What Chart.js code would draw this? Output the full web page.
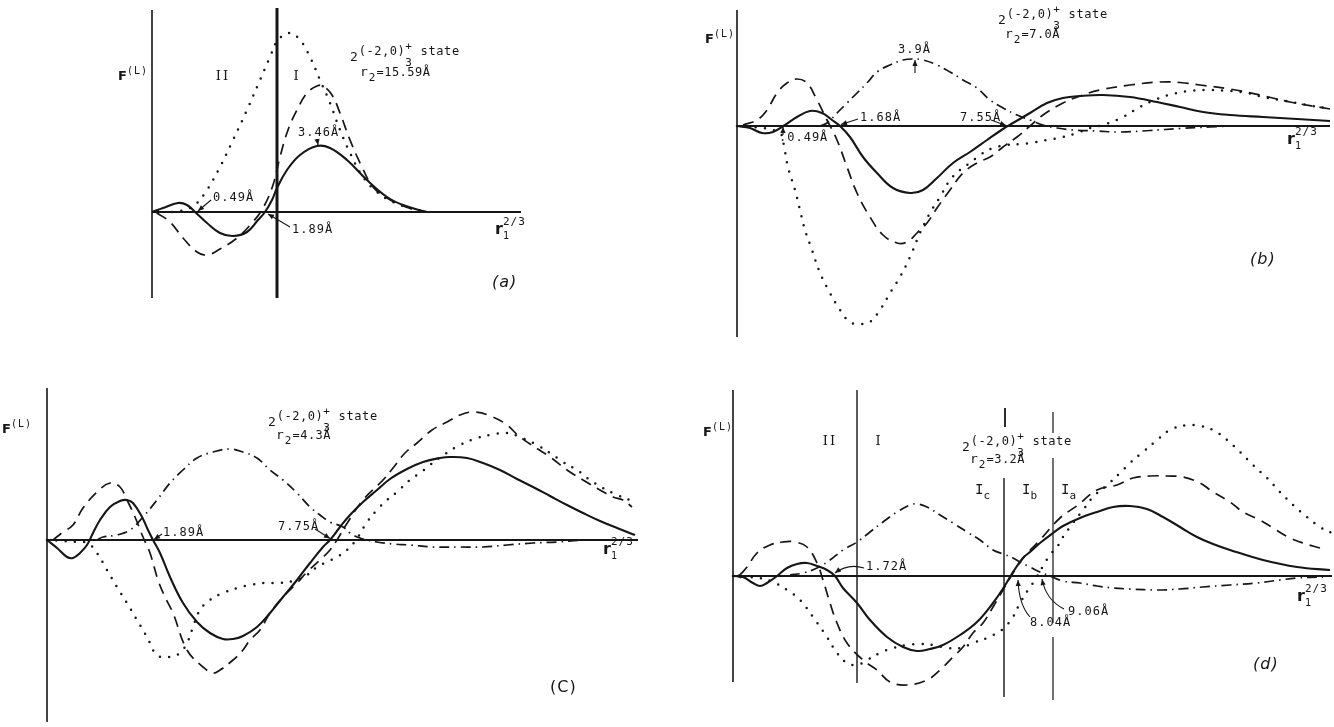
<!DOCTYPE html>
<html><head><meta charset="utf-8">
<script src="https://cdn.jsdelivr.net/npm/chart.js@4/dist/chart.umd.min.js"></script>
<style>
html,body{margin:0;padding:0;background:#fff;width:1334px;height:727px;overflow:hidden}
canvas{position:absolute}
</style></head><body>
<canvas id="pa" width="460" height="310" style="left:100px;top:0px"></canvas>
<canvas id="pb" width="644" height="345" style="left:690px;top:0px"></canvas>
<canvas id="pc" width="670" height="347" style="left:0px;top:380px"></canvas>
<canvas id="pd" width="644" height="347" style="left:690px;top:380px"></canvas>
<script>
// ---------- data (x = r1^(2/3) arbitrary units, y = F^(L) arbitrary units) ----------
const A_SOLID = [[0,0],[1.1,0.4],[2.6,0.9],[3.5,0.7],[4.3,0],[5.5,-1.1],[6.8,-2.1],[8.1,-2.4],[9.5,-2.0],[10.6,-0.8],[11.3,0],[12.0,1.2],[12.5,2.4],[13.5,4.2],[14.8,5.7],[16.5,6.6],[17.8,6.4],[19.5,5.2],[21.5,3.2],[23.5,1.5],[25.1,0.7],[27.1,0.1],[27.6,0]];
const A_DASHED = [[0.5,-0.1],[1.8,-1.0],[3.1,-2.6],[4.5,-4.0],[5.5,-4.3],[6.8,-3.7],[8.5,-2.6],[10.0,-1.1],[11.1,0.4],[12.1,2.7],[12.8,5.5],[13.6,8.2],[14.5,10.2],[15.5,11.9],[16.5,12.6],[17.1,12.6],[18.0,11.7],[18.8,9.9],[19.8,7.2],[21.0,4.5],[22.1,2.5],[23.5,1.4],[25.1,0.6],[26.8,0.1]];
const A_DOTTED = [[2.0,0],[2.8,0.1],[3.8,0.4],[4.5,0.9],[5.5,2.2],[6.8,4.5],[8.1,7.2],[9.5,10.2],[10.8,13.2],[11.8,15.5],[12.6,17.2],[13.8,17.9],[14.8,17.2],[15.8,15.5],[16.8,13.2],[17.8,10.9],[18.8,8.2],[19.8,5.9],[21.1,3.5],[22.5,2.0],[24.1,1.0],[25.8,0.4],[27.1,0.1]];

const B_SOLID = [[0,0],[1.3,-0.2],[2.5,-0.7],[3.6,-0.6],[4.8,0.1],[6.0,0.9],[7.3,1.5],[8.5,1.3],[9.5,0.6],[10.3,0],[11.3,-1.1],[12.6,-3.1],[14.0,-4.7],[15.6,-6.2],[17.3,-6.7],[18.6,-6.4],[20.0,-5.2],[21.6,-3.7],[23.3,-2.6],[25.0,-1.4],[26.6,-0.3],[27.6,0.3],[29.3,1.3],[31.0,2.3],[32.6,2.8],[34.3,3.0],[36.6,3.1],[39.3,2.9],[42.0,2.4],[44.3,1.9],[46.6,1.4],[49.3,1.1],[52.6,0.9],[56.0,0.7],[59.3,0.5]];
const B_DASHED = [[0.6,0.1],[2.0,0.6],[3.0,1.6],[4.0,3.3],[5.0,4.3],[6.0,4.7],[7.0,4.3],[8.0,2.6],[9.0,0.6],[10.0,-1.4],[11.0,-4.1],[12.0,-6.7],[13.3,-9.1],[14.6,-10.9],[16.0,-11.7],[17.0,-11.6],[18.0,-10.7],[19.0,-9.7],[20.0,-8.2],[21.3,-6.4],[22.6,-4.7],[24.0,-3.7],[25.3,-3.1],[26.6,-2.1],[28.0,-1.1],[29.3,0],[30.6,1.1],[32.6,2.3],[34.3,3.0],[36.3,3.6],[39.3,4.1],[42.3,4.4],[44.3,4.35],[46.3,4.1],[49.3,3.7],[52.3,3.1],[55.3,2.4],[59.3,1.7]];
const B_DOTTED = [[0,0],[1.3,-0.1],[2.6,-0.2],[3.6,-0.4],[4.4,-0.8],[4.7,-2.0],[5.1,-4.1],[5.8,-6.4],[6.3,-8.4],[6.8,-10.4],[7.5,-12.4],[8.3,-14.7],[9.3,-16.7],[10.3,-18.4],[11.3,-19.6],[12.3,-19.8],[13.3,-19.6],[14.3,-18.4],[15.3,-16.7],[16.3,-15.1],[17.3,-13.1],[18.3,-10.7],[19.3,-8.7],[20.3,-7.1],[21.3,-5.4],[22.3,-4.4],[23.3,-3.7],[24.3,-2.9],[25.6,-2.2],[27.0,-1.9],[28.3,-1.8],[29.3,-1.7],[31.0,-1.4],[32.6,-1.1],[34.0,-0.7],[35.3,-0.2],[36.6,0.1],[38.6,0.9],[40.3,1.9],[42.0,2.7],[43.6,3.2],[45.3,3.5],[47.3,3.6],[49.3,3.5],[51.0,3.3],[52.6,2.9],[54.3,2.6],[56.0,2.3],[57.6,2.0],[59.0,1.8]];
const B_DASHDOT = [[8.3,0],[9.0,0.3],[10.0,1.3],[11.0,2.3],[12.0,3.3],[13.0,4.3],[14.0,5.4],[15.3,6.1],[16.6,6.6],[17.6,6.7],[18.6,6.6],[20.0,6.1],[21.3,5.4],[22.6,4.6],[24.0,3.8],[25.3,2.6],[26.6,1.8],[28.0,1.1],[29.3,0.6],[30.6,0.1],[32.0,-0.2],[33.6,-0.4],[36.0,-0.5],[38.3,-0.6],[41.3,-0.45],[44.3,-0.25],[47.3,-0.1],[50.3,0],[59.3,0]];

const C_SOLID = [[0,0],[1.0,-0.8],[2.0,-1.7],[2.6,-1.8],[3.3,-1.3],[4.0,-0.5],[4.6,0.7],[5.3,2.0],[6.3,3.3],[7.3,3.9],[8.0,4.0],[8.6,3.7],[9.5,2.3],[10.1,1.0],[10.6,0],[11.3,-1.3],[12.3,-3.7],[13.6,-6.3],[15.0,-8.2],[16.3,-9.3],[17.6,-9.9],[18.6,-9.9],[19.6,-9.6],[21.0,-8.7],[22.3,-7.3],[23.6,-5.7],[25.0,-4.0],[26.3,-2.3],[27.6,-0.7],[28.3,0],[29.3,1.3],[30.3,2.5],[31.6,3.8],[33.0,5.0],[34.3,6.1],[36.0,7.1],[37.6,7.8],[39.3,8.2],[40.3,8.3],[42.0,8.2],[43.6,7.7],[45.3,7.0],[47.0,6.1],[48.6,5.3],[50.3,4.4],[52.0,3.5],[53.6,2.7],[55.3,1.9],[57.0,1.2],[58.8,0.5]];
const C_DASHED = [[0.6,0],[1.6,0.8],[2.6,1.5],[3.6,3.2],[5.0,4.8],[6.3,5.7],[7.3,5.3],[8.0,4.0],[8.8,2.3],[9.6,0.3],[10.3,-1.3],[11.1,-4.0],[11.8,-5.7],[12.6,-7.3],[14.0,-11.0],[15.6,-12.7],[16.6,-13.3],[17.3,-13.0],[18.6,-12.0],[19.6,-11.0],[20.3,-10.0],[21.3,-9.0],[22.3,-7.3],[23.6,-5.7],[25.0,-4.3],[26.0,-3.2],[27.3,-2.0],[28.3,-1.0],[29.0,0],[29.9,1.5],[31.6,4.0],[33.6,6.0],[34.6,7.2],[35.8,8.7],[37.0,9.7],[38.5,11.0],[40.0,11.8],[41.3,12.5],[42.8,12.8],[44.6,12.3],[46.0,11.5],[47.3,10.3],[50.3,8.3],[52.0,7.0],[53.6,6.0],[55.3,5.0],[56.6,4.3],[57.6,4.0],[58.5,3.3]];
const C_DOTTED = [[0,0],[1.6,-0.1],[3.3,-0.2],[4.1,-0.3],[5.0,-1.3],[6.0,-3.0],[7.0,-4.7],[8.0,-6.3],[9.0,-8.0],[10.0,-9.7],[11.0,-11.5],[12.3,-11.7],[13.3,-11.3],[14.0,-10.3],[14.5,-9.0],[15.3,-7.0],[16.3,-6.0],[17.6,-5.3],[19.0,-4.8],[20.3,-4.5],[21.6,-4.3],[23.3,-4.3],[25.0,-4.0],[26.0,-3.5],[27.0,-2.7],[28.0,-2.2],[29.0,-1.7],[30.0,-1.0],[30.9,0],[32.0,1.8],[33.0,3.0],[34.0,4.0],[35.0,4.8],[36.3,6.0],[37.3,6.7],[38.3,7.5],[39.8,8.6],[41.3,9.5],[43.0,10.2],[44.3,10.5],[46.0,10.7],[47.3,10.3],[49.0,9.5],[50.3,8.7],[51.6,7.8],[53.0,7.0],[54.3,6.0],[55.6,5.2],[57.0,4.5],[58.3,4.0]];
const C_DASHDOT = [[5.0,0],[5.6,0.3],[7.0,0.5],[8.3,1.0],[9.6,2.3],[11.0,4.0],[12.3,5.7],[13.6,7.0],[15.0,8.2],[16.6,8.8],[18.3,9.1],[19.6,8.8],[21.0,8.2],[22.3,7.0],[23.6,6.0],[25.0,4.7],[26.3,3.3],[27.3,2.5],[28.3,1.8],[29.6,1.3],[30.3,0.7],[31.3,0.2],[33.0,-0.2],[34.6,-0.4],[36.3,-0.5],[38.6,-0.7],[41.3,-0.7],[43.6,-0.7],[46.0,-0.5],[48.6,-0.3],[51.0,-0.2],[53.6,0],[55.6,0]];

const D_SOLID = [[0,0],[1.0,-0.1],[2.0,-0.7],[2.7,-1.0],[3.4,-0.7],[4.4,0],[5.4,0.8],[6.4,1.2],[7.4,1.3],[8.4,1.0],[9.4,0.6],[10.2,0],[11.0,-1.2],[12.4,-2.7],[13.7,-4.4],[15.4,-6.1],[17.0,-7.1],[18.4,-7.5],[19.7,-7.3],[21.0,-6.9],[22.7,-5.9],[24.4,-4.6],[26.0,-2.7],[27.1,-1.1],[28.0,0.4],[29.0,1.8],[29.7,2.4],[30.7,3.3],[32.0,4.3],[33.0,5.0],[34.7,5.8],[36.4,6.4],[38.0,6.9],[39.7,7.0],[41.4,6.7],[43.0,5.9],[44.7,4.9],[46.4,3.9],[48.0,3.2],[49.7,2.6],[53.0,1.6],[56.4,0.9],[59.7,0.6]];
const D_DASHED = [[0.7,0.1],[1.4,0.9],[2.4,2.3],[3.7,3.1],[5.0,3.4],[6.2,3.4],[7.4,2.9],[8.4,1.3],[9.0,-0.4],[9.7,-2.7],[10.4,-4.7],[11.4,-6.7],[13.0,-8.4],[14.4,-9.4],[15.7,-10.6],[17.4,-10.9],[19.4,-10.4],[20.7,-9.4],[22.0,-8.1],[23.0,-7.1],[24.0,-5.7],[25.0,-4.7],[26.0,-3.1],[27.0,-1.4],[27.7,-0.2],[28.4,0.9],[29.0,1.8],[30.7,3.6],[32.7,5.8],[34.5,7.1],[36.4,8.6],[38.4,9.1],[40.0,9.8],[41.7,10.0],[43.4,10.0],[45.0,9.9],[46.7,9.3],[48.0,8.4],[49.7,7.4],[51.0,6.4],[52.7,5.6],[54.0,4.8],[55.5,3.9],[57.0,3.3],[58.7,2.8]];
const D_DOTTED = [[0,0],[1.4,-0.1],[2.7,-0.2],[4.0,-0.6],[5.4,-1.4],[6.7,-2.4],[8.0,-4.1],[9.4,-6.1],[10.4,-7.7],[11.4,-8.7],[12.4,-8.9],[13.4,-8.4],[14.7,-7.7],[16.0,-7.2],[17.4,-6.9],[18.7,-6.8],[20.0,-6.9],[21.4,-7.2],[22.7,-7.2],[24.0,-6.7],[25.4,-6.2],[26.4,-5.7],[27.1,-5.2],[28.0,-4.1],[28.7,-2.7],[29.5,-1.4],[30.2,-0.4],[31.0,1.0],[31.7,2.1],[32.4,2.9],[33.0,3.9],[34.0,5.3],[35.0,6.6],[36.0,7.9],[37.4,9.1],[38.7,10.3],[39.7,11.3],[41.0,12.4],[42.4,13.6],[43.7,14.6],[45.4,15.1],[46.7,15.0],[48.0,14.6],[49.4,13.6],[50.7,12.4],[52.0,11.1],[53.4,9.8],[54.7,8.4],[56.0,7.1],[57.4,5.9],[58.7,4.9],[59.9,4.3]];
const D_DASHDOT = [[5.7,0.1],[7.0,0.3],[8.4,0.8],[9.7,1.6],[11.0,2.6],[12.4,3.4],[13.7,4.4],[15.0,5.4],[16.4,6.4],[17.7,7.1],[18.4,7.2],[19.4,6.9],[20.7,6.1],[22.0,5.3],[23.4,4.4],[24.7,3.6],[26.0,2.6],[27.0,2.2],[28.0,1.8],[28.7,1.4],[29.7,0.9],[30.7,0.4],[31.7,0],[33.0,-0.5],[34.7,-0.7],[36.4,-1.0],[38.0,-1.2],[39.7,-1.3],[42.4,-1.4],[44.7,-1.3],[47.0,-1.1],[49.7,-0.9],[52.4,-0.7],[54.7,-0.4],[56.4,-0.2],[59.0,-0.1]];

// marked radii (labels) and region boundaries
const A_MARKS = ['0.49Å','1.89Å','3.46Å'];
const B_MARKS = ['0.49Å','1.68Å','3.9Å','7.55Å'];
const C_MARKS = ['1.89Å','7.75Å'];
const D_MARKS = ['1.72Å','8.04Å','9.06Å'];
const R2_VALUES = ['15.59Å','7.0Å','4.3Å','3.2Å'];
const PANEL_TAGS = ['(a)','(b)','(C)','(d)'];
const A_BOUNDARY = [12.5];
const D_BOUNDARIES = [12.4, 27.1, 32.0];

// ---------- drawing helpers ----------
const MONO = '"DejaVu Sans Mono", monospace';
const SANS = '"DejaVu Sans", sans-serif';
const SERIF = '"DejaVu Serif", serif';
const INK = '#161616';

function drawRich(ctx, x, y, parts, align) {
  const fontOf = p => `${p.st||'normal'} ${p.w||'normal'} ${p.s||12}px ${p.f||MONO}`;
  let total = 0;
  for (const p of parts) { ctx.font = fontOf(p); ctx.letterSpacing = (p.ls==null?1:p.ls)+'px'; if (!p.na) total += ctx.measureText(p.t).width; }
  let cx = align === 'center' ? x - total/2 : x;
  for (const p of parts) {
    ctx.font = fontOf(p); ctx.letterSpacing = (p.ls==null?1:p.ls)+'px';
    ctx.fillText(p.t, cx, y + (p.dy||0));
    if (!p.na) cx += ctx.measureText(p.t).width;
  }
  ctx.letterSpacing = '0px';
}
function drawArrow(ctx, p0, p1, c) {
  ctx.lineWidth = 1.1;
  ctx.beginPath(); ctx.moveTo(p0[0], p0[1]);
  if (c) ctx.quadraticCurveTo(c[0], c[1], p1[0], p1[1]); else ctx.lineTo(p1[0], p1[1]);
  ctx.stroke();
  const from = c || p0;
  const a = Math.atan2(p1[1]-from[1], p1[0]-from[0]);
  const L = 6, W = 2.6;
  ctx.beginPath();
  ctx.moveTo(p1[0], p1[1]);
  ctx.lineTo(p1[0]-L*Math.cos(a)+W*Math.sin(a), p1[1]-L*Math.sin(a)-W*Math.cos(a));
  ctx.lineTo(p1[0]-L*Math.cos(a)-W*Math.sin(a), p1[1]-L*Math.sin(a)+W*Math.cos(a));
  ctx.closePath(); ctx.fill();
}
const annotPlugin = {
  id: 'annot',
  afterDatasetsDraw(chart, args, opts) {
    const ctx = chart.ctx, sx = chart.scales.x, sy = chart.scales.y;
    const P = a => [sx.getPixelForValue(a[0]), sy.getPixelForValue(a[1])];
    ctx.save();
    ctx.fillStyle = INK; ctx.strokeStyle = INK; ctx.textBaseline = 'middle';
    for (const it of (opts.items||[])) {
      if (it.kind === 'text') { const p = P(it.at); drawRich(ctx, p[0], p[1], it.parts, it.align); }
      else drawArrow(ctx, P(it.from), P(it.to), it.ctrl ? P(it.ctrl) : null);
    }
    ctx.restore();
  }
};

const STYLE = {
  solid:   {borderWidth: 2.1, borderDash: []},
  dashed:  {borderWidth: 1.7, borderDash: [11, 7]},
  dotted:  {borderWidth: 2.5, borderDash: [0, 9.3], borderCapStyle: 'round'},
  dashdot: {borderWidth: 1.7, borderDash: [10, 5, 1.5, 5]}
};
function curve(pts, kind) {
  return Object.assign({data: pts.map(([x,y]) => ({x, y})), borderColor: INK, pointRadius: 0,
    fill: false, tension: 0.4, borderCapStyle: 'butt', borderJoinStyle: 'round'}, STYLE[kind]);
}
function rule(x0, y0, x1, y1, w) {
  return {data: [{x:x0,y:y0},{x:x1,y:y1}], borderColor: INK, borderWidth: w, pointRadius: 0, tension: 0, fill: false};
}
const FL = [{t:'F', w:'bold', s:13, f:SANS, ls:0}, {t:'(L)', dy:-6, s:10}];
const R1 = [{t:'r', w:'bold', s:16, f:SANS, ls:0}, {t:'1', dy:6, s:10, na:1}, {t:'2/3', dy:-8, s:11}];
const stateLbl = () => [{t:'2', s:13}, {t:'(-2,0)', dy:-6, s:12, ls:0.5}, {t:'3', dy:5, s:11, na:1}, {t:'+', dy:-11, s:11}, {t:' state', dy:-6, s:12, ls:0.6}];
const r2Lbl = v => [{t:'r', s:13}, {t:'2', dy:5, s:11}, {t:'='+v, ls:0.5}];
const T = (at, parts, align) => ({kind:'text', at, parts, align});
const txt = (at, s, opt) => T(at, [Object.assign({t:s}, opt||{})]);
const tag = (at, s, italic) => T(at, [{t:s, s:16, f:SANS, st: italic ? 'italic' : 'normal', ls:1}]);
const roman = (at, s) => T(at, [{t:s, s:13, f:SERIF, ls:2}], 'center');
const region = (at, sub) => T(at, [{t:'I', s:14, ls:0}, {t:sub, dy:6, s:11}]);
const arrow = (from, to, ctrl) => ({kind:'arrow', from, to, ctrl});

function makePanel(id, range, datasets, items) {
  new Chart(document.getElementById(id), {
    type: 'line',
    data: {datasets},
    options: {
      responsive: false, animation: false, events: [],
      layout: {padding: 0},
      scales: {
        x: {type: 'linear', display: false, min: range[0], max: range[1]},
        y: {type: 'linear', display: false, min: range[2], max: range[3]}
      },
      plugins: {legend: {display: false}, tooltip: {enabled: false}, annot: {items}}
    },
    plugins: [annotPlugin]
  });
}

// ---------- panel (a) ----------
makePanel('pa', [-5.2, 40.8, -9.8, 21.2], [
  rule(0, 20.2, 0, -8.6, 1.6), rule(0, 0, 36.9, 0, 2.2),
  rule(A_BOUNDARY[0], 20.4, A_BOUNDARY[0], -8.6, 3),
  curve(A_DOTTED, 'dotted'), curve(A_DASHED, 'dashed'), curve(A_SOLID, 'solid')
], [
  T([-3.4, 13.5], FL),
  roman([7.1, 13.5], 'II'), roman([14.5, 13.5], 'I'),
  T([19.8, 15.4], stateLbl()), T([20.8, 13.9], r2Lbl(R2_VALUES[0])),
  txt([14.6, 7.9], A_MARKS[2]), arrow([16.5, 7.3], [16.6, 6.7]),
  txt([6.1, 1.4], A_MARKS[0]), arrow([5.9, 1.2], [4.6, 0.1]),
  txt([14.0, -1.8], A_MARKS[1]), arrow([13.8, -1.5], [11.6, -0.2]),
  arrow([1.6, 0], [0.1, 0]),
  T([34.3, -1.8], R1), tag([34.0, -7.1], PANEL_TAGS[0], true)
]);

// ---------- panel (b) ----------
makePanel('pb', [-4.7, 59.7, -21.9, 12.6], [
  rule(0, 11.6, 0, -21.1, 1.6), rule(0, 0, 59.3, 0, 2.2),
  curve(B_DOTTED, 'dotted'), curve(B_DASHED, 'dashed'), curve(B_DASHDOT, 'dashdot'), curve(B_SOLID, 'solid')
], [
  T([-3.2, 8.6], FL),
  T([26.1, 10.5], stateLbl()), T([26.8, 9.1], r2Lbl(R2_VALUES[1])),
  txt([16.1, 7.6], B_MARKS[2]), arrow([17.8, 5.3], [17.8, 6.6]),
  txt([12.3, 0.8], B_MARKS[1]), arrow([12.1, 0.7], [10.4, 0.15]),
  txt([22.3, 0.8], B_MARKS[3]), arrow([25.4, 0.6], [26.9, 0.05]),
  txt([4.2, -1.2], '.' + B_MARKS[0]), arrow([4.6, -0.9], [4.6, -0.1]),
  T([55.0, -1.4], R1), tag([51.3, -13.4], PANEL_TAGS[1], true)
]);

// ---------- panel (c) ----------
makePanel('pc', [-4.7, 62.3, -18.7, 16.0], [
  rule(0, 15.2, 0, -18.2, 1.6), rule(0, 0, 59.1, 0, 1.8),
  curve(C_DOTTED, 'dotted'), curve(C_DASHED, 'dashed'), curve(C_DASHDOT, 'dashdot'), curve(C_SOLID, 'solid')
], [
  T([-4.5, 11.0], FL),
  T([22.1, 11.7], stateLbl()), T([22.9, 10.4], r2Lbl(R2_VALUES[2])),
  txt([11.6, 0.7], C_MARKS[0]), arrow([11.5, 0.6], [10.7, 0.05]),
  txt([23.1, 1.3], C_MARKS[1]), arrow([26.8, 1.1], [28.3, 0.15]),
  T([55.6, -1.0], R1), tag([50.3, -14.8], PANEL_TAGS[2], false)
]);

// ---------- panel (d) ----------
makePanel('pd', [-4.3, 60.1, -15.1, 19.6], [
  rule(0, 18.6, 0, -10.6, 1.6), rule(0, 0, 59.9, 0, 1.8),
  rule(D_BOUNDARIES[0], 18.6, D_BOUNDARIES[0], -10.7, 1.4),
  rule(D_BOUNDARIES[1], 9.8, D_BOUNDARIES[1], -12.1, 1.4),
  rule(D_BOUNDARIES[1] + 0.1, 16.8, D_BOUNDARIES[1] + 0.1, 14.9, 1.8),
  rule(D_BOUNDARIES[2], 16.4, D_BOUNDARIES[2], 14.3, 1.2),
  rule(D_BOUNDARIES[2], 11.8, D_BOUNDARIES[2], -4.7, 1.2),
  rule(D_BOUNDARIES[2], -6.1, D_BOUNDARIES[2], -12.4, 1.2),
  curve(D_DOTTED, 'dotted'), curve(D_DASHED, 'dashed'), curve(D_DASHDOT, 'dashdot'), curve(D_SOLID, 'solid')
], [
  T([-3.0, 14.3], FL),
  roman([9.7, 13.4], 'II'), roman([14.6, 13.4], 'I'),
  T([22.9, 12.8], stateLbl()), T([23.7, 11.6], r2Lbl(R2_VALUES[3])),
  region([24.2, 8.6], 'c'), region([28.9, 8.6], 'b'), region([32.8, 8.6], 'a'),
  txt([13.3, 0.9], D_MARKS[0]), arrow([13.1, 0.8], [10.2, 0.3], [11.5, 1.3]),
  txt([29.7, -4.7], D_MARKS[1]), arrow([29.7, -4.1], [28.5, -0.4], [28.6, -2.9]),
  txt([33.5, -3.6], D_MARKS[2]), arrow([33.1, -3.3], [30.9, -0.3], [31.3, -2.4]),
  arrow([1.8, 0], [0.2, 0]),
  T([56.4, -2.1], R1), tag([52.0, -8.9], PANEL_TAGS[3], true)
]);
</script>
</body></html>
